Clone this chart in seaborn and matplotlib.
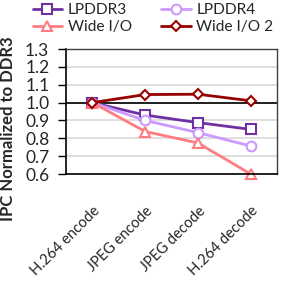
import matplotlib
matplotlib.use("Agg")
import matplotlib.pyplot as plt
import seaborn as sns
import pandas as pd
from matplotlib.lines import Line2D

categories = ["H.264 encode", "JPEG encode", "JPEG decode", "H.264 decode"]
series_names = ["LPDDR3", "LPDDR4", "Wide I/O", "Wide I/O 2"]
lpddr3 = [1.0, 0.93, 0.888, 0.85]
lpddr4 = [1.0, 0.90, 0.832, 0.757]
wideio = [1.0, 0.838, 0.774, 0.60]
wideio2 = [1.0, 1.045, 1.047, 1.01]
yticks = [0.6, 0.7, 0.8, 0.9, 1.0, 1.1, 1.2, 1.3]

colors = ["#7030A0", "#CC99FF", "#FF7C80", "#990000"]
markers = ["s", "o", "^", "D"]
msizes = [7, 7, 7, 5]

sns.set_style("white")
plt.rcParams["font.family"] = ["Lato", "DejaVu Sans"]

fig = plt.figure(figsize=(2.81, 2.99), dpi=100)
ax = fig.add_axes([0.235, 0.418, 0.751, 0.418])

vals = [lpddr3, lpddr4, wideio, wideio2]
handles = []
for name, v, c, m, ms in zip(series_names, vals, colors, markers, msizes):
    df = pd.DataFrame({"cat": categories, "val": v})
    sns.lineplot(data=df, x="cat", y="val", ax=ax, color=c, marker=m,
                 markersize=ms, markerfacecolor="white", markeredgecolor=c,
                 markeredgewidth=1.5, linewidth=2, sort=False, clip_on=False)
    handles.append(Line2D([0], [0], color=c, marker=m, markersize=ms,
                          markerfacecolor="white", markeredgecolor=c,
                          markeredgewidth=1.5, linewidth=2))

ax.set_xlim(-0.5, 3.5)
ax.set_ylim(0.6, 1.3)
ax.set_yticks(yticks)
ax.set_yticklabels([f"{t:.1f}" for t in yticks], fontsize=12.5)
ax.grid(axis="y", color="#D9D9D9", linewidth=1.2)
ax.set_axisbelow(True)
ax.axhline(1.0, color="black", linewidth=1.2, zorder=1)
ax.set_xticks(range(len(categories)))
ax.set_xticklabels(categories, rotation=45, ha="right", va="top",
                   rotation_mode="anchor", fontsize=10.5)
ax.tick_params(axis="x", direction="inout", length=7, width=1, color="black", pad=18)
ax.tick_params(axis="y", direction="out", length=6, width=1, color="black", pad=6, left=True)
ax.set_xlabel("")
ax.set_ylabel("IPC Normalized to DDR3", fontsize=12, fontweight="bold")
ax.yaxis.set_label_coords(-0.237, 0.36)
for s in ["left", "bottom"]:
    ax.spines[s].set_color("black")
    ax.spines[s].set_linewidth(1.2)
for s in ["top", "right"]:
    ax.spines[s].set_color("#404040")
    ax.spines[s].set_linewidth(1)

order = [0, 2, 1, 3]
fig.legend([handles[i] for i in order], [series_names[i] for i in order],
           loc="upper left", bbox_to_anchor=(0.094, 1.01),
           ncol=2, frameon=False, fontsize=11.2, handlelength=1.9,
           handletextpad=0.35, columnspacing=1.9, labelspacing=0.2, borderaxespad=0)

fig.savefig("out.png", dpi=100)
